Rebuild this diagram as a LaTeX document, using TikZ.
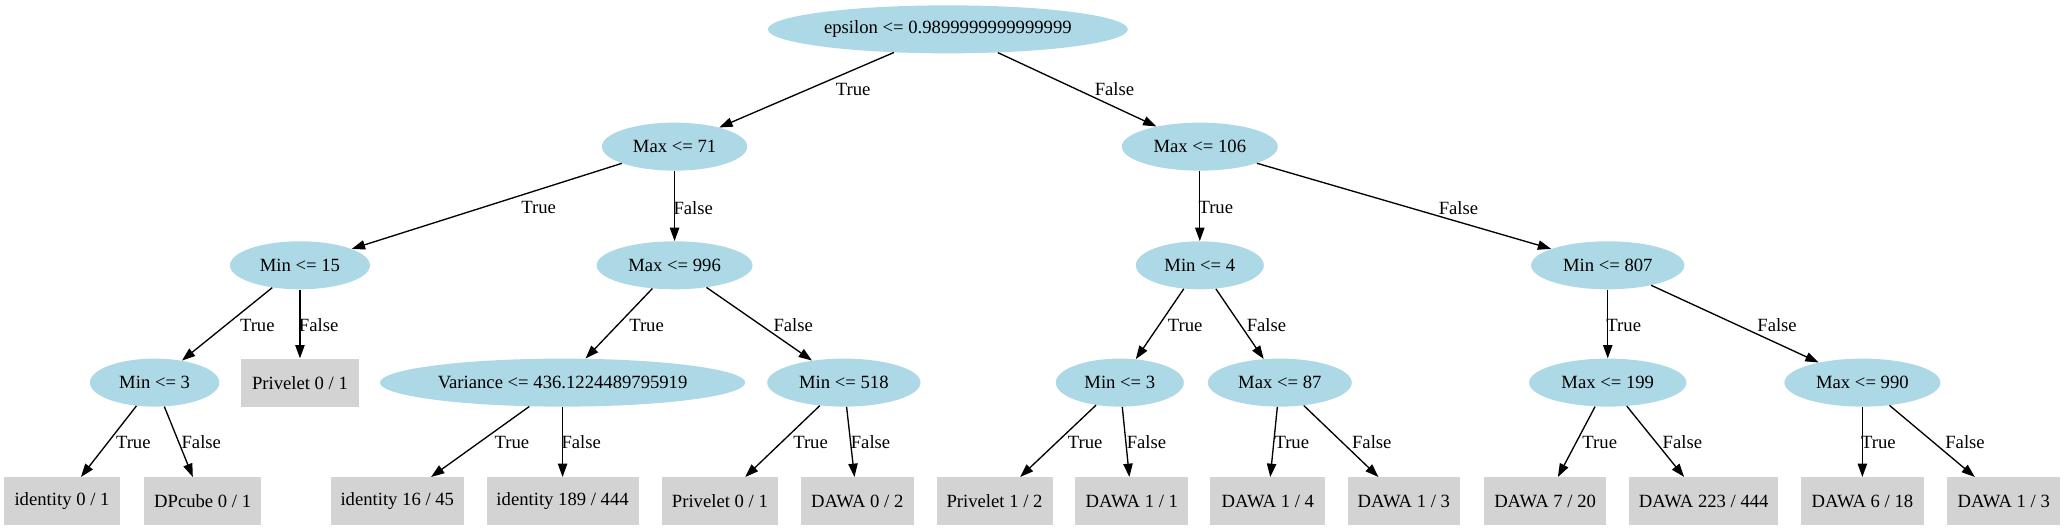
\documentclass[tikz,border=0pt]{standalone}
\usepackage{fontspec}
\setmainfont{Liberation Serif}
\usetikzlibrary{shapes.geometric,arrows.meta}
\definecolor{nodeblue}{RGB}{173,216,230}
\definecolor{leafgray}{RGB}{211,211,211}

\begin{document}
\begin{tikzpicture}[x=1bp,y=1bp,
  font=\fontsize{14bp}{16bp}\selectfont,
  decision/.style={ellipse, fill=nodeblue, inner sep=0pt, minimum height=36bp},
  outcome/.style={rectangle, fill=leafgray, inner sep=0pt, minimum height=36bp},
  lbl/.style={inner sep=0pt},
  edge/.style={-{Triangle[length=10bp,width=7bp]}, line width=1bp}]
\useasboundingbox (0,0) rectangle (1549,-398);

% splits
\node[decision, minimum width=270bp] (root) at (711,-22) {epsilon <= 0.9899999999999999};
\node[decision, minimum width=109bp] (m71) at (506,-110) {Max <= 71};
\node[decision, minimum width=117bp] (m106) at (900,-110) {Max <= 106};
\node[decision, minimum width=105bp] (min15) at (225,-199) {Min <= 15};
\node[decision, minimum width=117bp] (m996) at (506,-199) {Max <= 996};
\node[decision, minimum width=96bp] (min4) at (900,-199) {Min <= 4};
\node[decision, minimum width=115bp] (min807) at (1206,-199) {Min <= 807};
\node[decision, minimum width=97bp] (min3a) at (116,-287) {Min <= 3};
\node[outcome, minimum width=88bp] (priv0) at (225,-287) {Privelet 0 / 1};
\node[decision, minimum width=274bp] (var) at (422,-287) {Variance <= 436.1224489795919};
\node[decision, minimum width=115bp] (min518) at (633,-287) {Min <= 518};
\node[decision, minimum width=96bp] (min3b) at (840,-287) {Min <= 3};
\node[decision, minimum width=108bp] (m87) at (960,-287) {Max <= 87};
\node[decision, minimum width=118bp] (m199) at (1206,-287) {Max <= 199};
\node[decision, minimum width=117bp] (m990) at (1397,-287) {Max <= 990};

% leaves
\node[outcome, minimum width=87bp] (id0) at (46.5,-376) {identity 0 / 1};
\node[outcome, minimum width=88bp] (dpc) at (152,-376) {DPcube 0 / 1};
\node[outcome, minimum width=100bp] (id16) at (298,-376) {identity 16 / 45};
\node[outcome, minimum width=114bp] (id189) at (422,-376) {identity 189 / 444};
\node[outcome, minimum width=87bp] (priv1) at (540,-376) {Privelet 0 / 1};
\node[outcome, minimum width=85bp] (dawa02) at (643,-376) {DAWA 0 / 2};
\node[outcome, minimum width=87bp] (priv12) at (746,-376) {Privelet 1 / 2};
\node[outcome, minimum width=85bp] (dawa11) at (849,-376) {DAWA 1 / 1};
\node[outcome, minimum width=86bp] (dawa14) at (951,-376) {DAWA 1 / 4};
\node[outcome, minimum width=84bp] (dawa13a) at (1053,-376) {DAWA 1 / 3};
\node[outcome, minimum width=92bp] (dawa720) at (1159,-376) {DAWA 7 / 20};
\node[outcome, minimum width=112bp] (dawa223) at (1278,-376) {DAWA 223 / 444};
\node[outcome, minimum width=92bp] (dawa618) at (1397,-376) {DAWA 6 / 18};
\node[outcome, minimum width=85bp] (dawa13b) at (1503,-376) {DAWA 1 / 3};

% edges
\draw[edge] (root) -- (m71);
\draw[edge] (root) -- (m106);
\draw[edge] (m71) -- (min15);
\draw[edge] (m71) -- (m996);
\draw[edge] (m106) -- (min4);
\draw[edge] (m106) -- (min807);
\draw[edge] (min15) -- (min3a);
\draw[edge] (min15) -- (priv0);
\draw[edge] (m996) -- (var);
\draw[edge] (m996) -- (min518);
\draw[edge] (min4) -- (min3b);
\draw[edge] (min4) -- (m87);
\draw[edge] (min807) -- (m199);
\draw[edge] (min807) -- (m990);
\draw[edge] (min3a) -- (id0);
\draw[edge] (min3a) -- (dpc);
\draw[edge] (var) -- (id16);
\draw[edge] (var) -- (id189);
\draw[edge] (min518) -- (priv1);
\draw[edge] (min518) -- (dawa02);
\draw[edge] (min3b) -- (priv12);
\draw[edge] (min3b) -- (dawa11);
\draw[edge] (m87) -- (dawa14);
\draw[edge] (m87) -- (dawa13a);
\draw[edge] (m199) -- (dawa720);
\draw[edge] (m199) -- (dawa223);
\draw[edge] (m990) -- (dawa618);
\draw[edge] (m990) -- (dawa13b);

% edge labels
\node[lbl] (lroot1) at (640,-67) {True};
\node[lbl] (lroot2) at (836,-67) {False};
\node[lbl] (lm71a) at (404,-156) {True};
\node[lbl] (lm71b) at (520,-156) {False};
\node[lbl] (lm106a) at (912,-156) {True};
\node[lbl] (lm106b) at (1094,-156) {False};
\node[lbl] (lmin15a) at (193,-244) {True};
\node[lbl] (lmin15b) at (239,-244) {False};
\node[lbl] (lm996a) at (485,-244) {True};
\node[lbl] (lm996b) at (595,-244) {False};
\node[lbl] (lmin4a) at (889,-244) {True};
\node[lbl] (lmin4b) at (950,-244) {False};
\node[lbl] (lmin807a) at (1218,-244) {True};
\node[lbl] (lmin807b) at (1333,-244) {False};
\node[lbl] (lmin3aa) at (100,-332) {True};
\node[lbl] (lmin3ab) at (151,-332) {False};
\node[lbl] (lvara) at (384,-332) {True};
\node[lbl] (lvarb) at (436,-332) {False};
\node[lbl] (lmin518a) at (608,-332) {True};
\node[lbl] (lmin518b) at (653,-332) {False};
\node[lbl] (lmin3ba) at (814,-332) {True};
\node[lbl] (lmin3bb) at (860,-332) {False};
\node[lbl] (lm87a) at (969,-332) {True};
\node[lbl] (lm87b) at (1029,-332) {False};
\node[lbl] (lm199a) at (1200,-332) {True};
\node[lbl] (lm199b) at (1262,-332) {False};
\node[lbl] (lm990a) at (1409,-332) {True};
\node[lbl] (lm990b) at (1474,-332) {False};
\end{tikzpicture}
\end{document}
